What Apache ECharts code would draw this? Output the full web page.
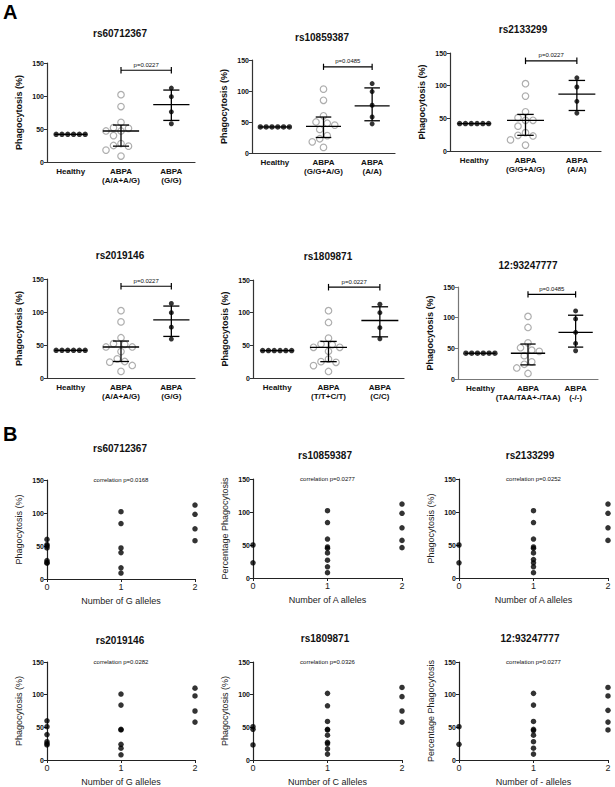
<!DOCTYPE html>
<html><head><meta charset="utf-8">
<script src="https://cdn.jsdelivr.net/npm/echarts@6/dist/echarts.min.js"></script>
<style>html,body{margin:0;padding:0;background:#fff}#c{width:615px;height:787px}</style>
</head><body><div id="c"></div>
<script>
// ================= DATA =================
// Panel A titles, group labels, p-values
const snpTitles = ['rs60712367','rs10859387','rs2133299','rs2019146','rs1809871','12:93247777'];
const groupLabelsA = [
  ['Healthy','ABPA\n(A/A+A/G)','ABPA\n(G/G)'],
  ['Healthy','ABPA\n(G/G+A/G)','ABPA\n(A/A)'],
  ['Healthy','ABPA\n(G/G+A/G)','ABPA\n(A/A)'],
  ['Healthy','ABPA\n(A/A+A/G)','ABPA\n(G/G)'],
  ['Healthy','ABPA\n(T/T+C/T)','ABPA\n(C/C)'],
  ['Healthy','ABPA\n(TAA/TAA+-/TAA)','ABPA\n(-/-)']
];
const pValuesA = ['p=0.0227','p=0.0485','p=0.0227','p=0.0227','p=0.0227','p=0.0485'];
const bracketLevelA = [139,139,138,139,139,138];

const healthyValues = [42,42,42,42,42,42];

const a1Group1 = [102,84,60,52,51,47,47,40,28,25,24,18,9];
const a1Group2 = [112,99,76,58];
const a1Stats  = [[42,42,42],[47,24,56],[87,63,109]]; // [center, low, high]

const a2Group1 = [103,85,60,50,48,45,38,28,23,18,9];
const a2Group2 = [112,99,77,58,47];
const a2Stats  = [[42,42,42],[43,25,58],[76,52,105]];

const a3Group1 = [103,84,60,51,47,47,38,28,24,23,17,9];
const a3Group2 = [112,98,76,58];
const a3Stats  = [[42,42,42],[47,24,56],[87,62,108]];

const a4Group1 = [102,85,61,52,51,47,47,40,29,25,24,19,10];
const a4Group2 = [113,99,77,59];
const a4Stats  = [[42,42,42],[47,25,56],[88,63,109]];

const a5Group1 = [103,85,61,52,51,47,47,41,29,25,24,19,10];
const a5Group2 = [113,100,77,60];
const a5Stats  = [[42,42,42],[47,25,56],[88,63,109]];

const a6Group1 = [102,84,59,51,47,45,38,28,24,18,9];
const a6Group2 = [111,98,76,58,46];
const a6Stats  = [[42,42,42],[42,23,57],[76,52,104]];

// Panel B
const corrTexts = ['correlation p=0.0168','correlation p=0.0277','correlation p=0.0252',
                   'correlation p=0.0282','correlation p=0.0326','correlation p=0.0277'];
const yNamesB = ['Phagocytosis (%)','Percentage Phagocytosis','Phagocytosis (%)',
                 'Phagocytosis (%)','Phagocytosis (%)','Percentage Phagocytosis'];
const xNamesB = ['Number of G alleles','Number of A alleles','Number of A alleles',
                 'Number of G alleles','Number of C alleles','Number of - alleles'];
const alleleTicks = [0,1,2];

const b1Allele0 = [60,52,50,47,28,25,24];
const b1Allele1 = [102,84,47,40,17,9];
const b1Allele2 = [112,98,76,58];

const b2Allele0 = [50,23];
const b2Allele1 = [102,84,59,47,45,38,27,17,8];
const b2Allele2 = [112,98,76,57,46];

const b3Allele0 = [50,23];
const b3Allele1 = [102,84,59,47,45,38,28,23,17,8];
const b3Allele2 = [112,98,76,57];

const b4Allele0 = [60,51,39,28,25,23];
const b4Allele1 = [101,84,47,46,24,18,8];
const b4Allele2 = [110,98,75,58];

const b5Allele0 = [51,47,23];
const b5Allele1 = [102,83,59,47,46,38,27,25,17,9];
const b5Allele2 = [111,97,75,58];

const b6Allele0 = [51,24];
const b6Allele1 = [102,84,59,47,45,38,28,18,9];
const b6Allele2 = [111,98,76,58,46];

// ================= LAYOUT =================
const panelsA = [
  {g1:a1Group1,g2:a1Group2,st:a1Stats},
  {g1:a2Group1,g2:a2Group2,st:a2Stats},
  {g1:a3Group1,g2:a3Group2,st:a3Stats},
  {g1:a4Group1,g2:a4Group2,st:a4Stats},
  {g1:a5Group1,g2:a5Group2,st:a5Stats},
  {g1:a6Group1,g2:a6Group2,st:a6Stats}
];
const panelsB = [
  [b1Allele0,b1Allele1,b1Allele2],[b2Allele0,b2Allele1,b2Allele2],[b3Allele0,b3Allele1,b3Allele2],
  [b4Allele0,b4Allele1,b4Allele2],[b5Allele0,b5Allele1,b5Allele2],[b6Allele0,b6Allele1,b6Allele2]
];
const gridA = [[47,63,148,99],[252,60,143,93],[450,53,151,98],[47,279,148,99],[253,280,151,98],[458,287,140,92]];
const titlePosA = [[120,33],[322,37],[523,29],[120,255],[328,256],[528,265]];
const gridB = [[47,480,148,99],[253,479,149,99],[459,479,149,99],[47,662,148,99],[253,662,149,99],[459,662,149,99]];
const titlePosB = [[120,448],[325,455],[530,455],[120,640],[325,638],[530,638]];

const FONT = '"Liberation Sans", Arial, sans-serif';
const XMIN = -0.47, XMAX = 2.47;

// simple beeswarm: returns x-offsets (category units) so symbols do not overlap
function swarm(vals, catPx, valPx, d) {
  const n = vals.length;
  if (vals.every(v => v === vals[0])) return vals.map((v, i) => (i - (n - 1) / 2) * d / catPx);
  const order = vals.map((v, i) => i).sort((a, b) => vals[b] - vals[a]);
  const placed = [], off = new Array(n);
  for (const i of order) {
    const y = vals[i] * valPx;
    for (let k = 0; k < 60; k++) {
      const step = k === 0 ? 0 : (k % 2 ? -Math.ceil(k / 2) : Math.ceil(k / 2));
      const x = step * d * 0.5;
      if (placed.every(p => Math.hypot(p.x - x, p.y - y) >= d)) { placed.push({x, y}); off[i] = x / catPx; break; }
    }
  }
  return off;
}

const grids = [], xAxes = [], yAxes = [], series = [], graphics = [];

function addTitle(txt, pos, size) {
  graphics.push({type:'text', x:pos[0], y:pos[1], style:{text:txt, font:`bold ${size}px ${FONT}`, fill:'#111', align:'center', verticalAlign:'middle'}});
}
graphics.push({type:'text', x:3, y:12, style:{text:'A', font:`bold 20px ${FONT}`, fill:'#000', verticalAlign:'middle'}});
graphics.push({type:'text', x:3, y:434, style:{text:'B', font:`bold 20px ${FONT}`, fill:'#000', verticalAlign:'middle'}});

// ---------- Panel A ----------
panelsA.forEach((p, i) => {
  const [l, t, w, h] = gridA[i];
  grids.push({left:l, top:t, width:w, height:h});
  const gi = grids.length - 1;
  const catPx = w / (XMAX - XMIN), valPx = h / 150;
  const axCol = i === 5 ? '#777' : '#333';
  xAxes.push({gridIndex:gi, type:'value', min:XMIN, max:XMAX,
    axisLine:{onZero:false, lineStyle:{color:axCol, width:1.2}}, axisTick:{show:false}, splitLine:{show:false},
    axisLabel:{customValues:[0,1,2], formatter:(v)=>groupLabelsA[i][Math.round(v)], fontFamily:FONT, fontWeight:'bold',
      fontSize:8, color:'#111', lineHeight:9, margin:5}});
  yAxes.push({gridIndex:gi, type:'value', min:0, max:150, interval:50,
    name:'Phagocytosis (%)', nameLocation:'middle', nameGap:24, nameRotate:90,
    nameTextStyle:{fontFamily:FONT, fontWeight:'bold', fontSize:9, color:'#111'},
    axisLine:{show:true, onZero:false, lineStyle:{color:axCol, width:1.2}}, axisTick:{show:true, length:3, lineStyle:{color:axCol}},
    splitLine:{show:false}, axisLabel:{fontFamily:FONT, fontWeight:'bold', fontSize:7, color:'#111', margin:3}});
  addTitle(snpTitles[i], titlePosA[i], 10);

  const hOff = swarm(healthyValues, catPx, valPx, 5.8);
  const o1 = swarm(p.g1, catPx, valPx, 7.5);
  const o2 = swarm(p.g2, catPx, valPx, 5);
  series.push({type:'scatter', xAxisIndex:gi, yAxisIndex:gi, clip:false, symbol:'circle', symbolSize:5.5,
    itemStyle:{color:'#000'}, data: healthyValues.map((v, k) => [0 + hOff[k], v]), z:3});
  series.push({type:'scatter', xAxisIndex:gi, yAxisIndex:gi, clip:false, symbol:'circle', symbolSize:6.5,
    itemStyle:{color:'rgba(255,255,255,0)', borderColor:'#9a9a9a', borderWidth:1.2}, data: p.g1.map((v, k) => [1 + o1[k], v]), z:3});
  series.push({type:'scatter', xAxisIndex:gi, yAxisIndex:gi, clip:false, symbol:'circle', symbolSize:5,
    itemStyle:{color:'#000'}, data: p.g2.map((v, k) => [2 + o2[k], v]), z:3});
  // center / spread bars
  series.push({type:'custom', xAxisIndex:gi, yAxisIndex:gi, z:5, clip:false,
    data: p.st.map((s, k) => [k, s[0], s[1], s[2]]),
    renderItem: (params, api) => {
      const x = api.value(0), c = api.value(1), lo = api.value(2), hi = api.value(3);
      const hw = x === 0 ? 0.32 : 0.36, cw = 0.16;
      const P = (a, b) => api.coord([a, b]);
      const L = (a, b) => ({type:'line', shape:{x1:a[0], y1:a[1], x2:b[0], y2:b[1]}, style:{stroke:'#000', lineWidth:1.3}});
      const ch = [L(P(x - hw, c), P(x + hw, c))];
      if (lo !== hi) ch.push(L(P(x, lo), P(x, hi)), L(P(x - cw, lo), P(x + cw, lo)), L(P(x - cw, hi), P(x + cw, hi)));
      return {type:'group', children:ch};
    }});
  // significance bracket
  series.push({type:'custom', xAxisIndex:gi, yAxisIndex:gi, z:5, clip:false,
    data: [[1, 2, bracketLevelA[i]]],
    renderItem: (params, api) => {
      const a = api.value(0), b = api.value(1), y = api.value(2);
      const P = (u, v) => api.coord([u, v]);
      const L = (m, n) => ({type:'line', shape:{x1:m[0], y1:m[1], x2:n[0], y2:n[1]}, style:{stroke:'#000', lineWidth:1.2}});
      const mid = P((a + b) / 2, y + 4);
      return {type:'group', children:[
        L(P(a, y), P(b, y)), L(P(a, y - 5), P(a, y + 5)), L(P(b, y - 5), P(b, y + 5)),
        {type:'text', x:mid[0], y:mid[1], style:{text:pValuesA[i], font:`6px ${FONT}`, fill:'#111', align:'center', verticalAlign:'bottom'}}
      ]};
    }});
});

// ---------- Panel B ----------
panelsB.forEach((groups, i) => {
  const [l, t, w, h] = gridB[i];
  grids.push({left:l, top:t, width:w, height:h});
  const gi = grids.length - 1;
  xAxes.push({gridIndex:gi, type:'value', min:0, max:2, interval:1,
    name:xNamesB[i], nameLocation:'middle', nameGap:17,
    nameTextStyle:{fontFamily:FONT, fontSize:9, color:'#222'},
    axisLine:{onZero:false, lineStyle:{color:'#222', width:1.2}}, axisTick:{show:true, length:3, lineStyle:{color:'#222'}},
    splitLine:{show:false}, axisLabel:{fontFamily:FONT, fontSize:9, color:'#222', margin:3}});
  yAxes.push({gridIndex:gi, type:'value', min:0, max:150, interval:50,
    name:yNamesB[i], nameLocation:'middle', nameGap:24, nameRotate:90,
    nameTextStyle:{fontFamily:FONT, fontSize:9, color:'#222'},
    axisLine:{show:true, onZero:false, lineStyle:{color:'#222', width:1.2}}, axisTick:{show:true, length:3, lineStyle:{color:'#222'}},
    splitLine:{show:false}, axisLabel:{fontFamily:FONT, fontWeight:'bold', fontSize:7, color:'#111', margin:3}});
  addTitle(snpTitles[i], titlePosB[i], 10);
  graphics.push({type:'text', x:l + w / 2, y:t, style:{text:corrTexts[i], font:`6px ${FONT}`, fill:'#111', align:'center', verticalAlign:'middle'}});
  const pts = [];
  groups.forEach((vals, k) => vals.forEach(v => pts.push([alleleTicks[k], v])));
  series.push({type:'scatter', xAxisIndex:gi, yAxisIndex:gi, clip:false, symbol:'circle', symbolSize:5.5,
    itemStyle:{color:'#000'}, data:pts, z:3});
});

const chart = echarts.init(document.getElementById('c'), null, {renderer:'svg'});
chart.setOption({
  animation:false, backgroundColor:'#fff',
  grid:grids, xAxis:xAxes, yAxis:yAxes, series:series, graphic:graphics
});
</script></body></html>
